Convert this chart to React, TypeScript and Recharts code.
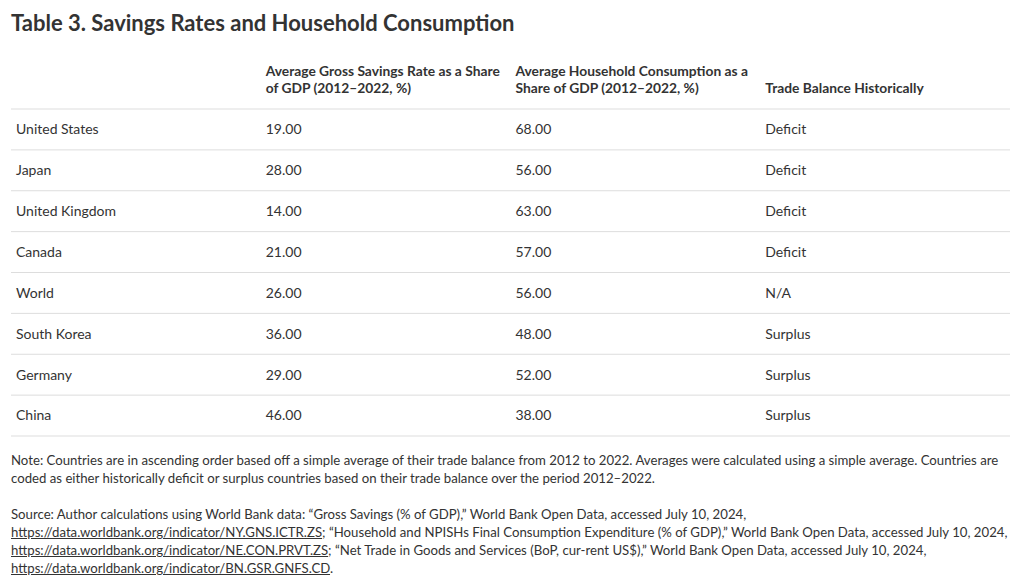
import React from "react"
import { ScatterChart, Scatter, XAxis, YAxis, CartesianGrid } from "recharts"

const countries = ["United States", "Japan", "United Kingdom", "Canada", "World", "South Korea", "Germany", "China"]
const savingsRate = [19, 28, 14, 21, 26, 36, 29, 46]
const consumption = [68, 56, 63, 57, 56, 48, 52, 38]
const tradeBalance = ["Deficit", "Deficit", "Deficit", "Deficit", "N/A", "Surplus", "Surplus", "Surplus"]

const headers = [
  [],
  ["Average Gross Savings Rate as a Share", "of GDP (2012\u20132022, %)"],
  ["Average Household Consumption as a", "Share of GDP (2012\u20132022, %)"],
  ["Trade Balance Historically"],
]

const FONT = "Lato, 'Noto Sans', sans-serif"
const TEXT = "#333333"

// one scatter series per column, each point is a table cell
const columns: string[][] = [
  countries,
  savingsRate.map((v) => v.toFixed(2)),
  consumption.map((v) => v.toFixed(2)),
  tradeBalance,
]
const cellData = columns.map((col, c) => col.map((label, r) => ({ col: c, row: r + 0.5, label })))

const CellText = (props: any) => {
  const { cx, cy, payload } = props
  return (
    <text x={cx + 5} y={cy} dy="0.35em" fontSize={14} fontFamily={FONT} fill={TEXT}>
      {payload.label}
    </text>
  )
}

const HeaderTick = (props: any) => {
  const { x, y, payload } = props
  const lines = headers[payload.value] || []
  return (
    <g>
      {lines.map((line, i) => (
        <text
          key={i}
          x={x + 5}
          y={y - 16 - (lines.length - 1 - i) * 17}
          fontSize={13.8}
          fontWeight={700}
          fontFamily={FONT}
          fill={TEXT}
        >
          {line}
        </text>
      ))}
    </g>
  )
}

const noteStyle: React.CSSProperties = { whiteSpace: "nowrap" }

export default function App() {
  return (
    <div style={{ position: "relative", width: 1020, height: 587, margin: -8, fontFamily: FONT, color: TEXT }}>
      <div style={{ position: "absolute", left: 11, top: 9, fontSize: 22, fontWeight: 700, whiteSpace: "nowrap" }}>
        Table 3. Savings Rates and Household Consumption
      </div>
      <div style={{ position: "absolute", left: 0, top: 0 }}>
        <ScatterChart width={1020} height={587} margin={{ top: 59, left: 11, right: 10, bottom: 151 }}>
          <CartesianGrid vertical={false} stroke="#dddddd" strokeDasharray="" />
          <XAxis
            dataKey="col"
            type="number"
            orientation="top"
            domain={[0, 4]}
            ticks={[0, 1, 2, 3]}
            height={50}
            axisLine={false}
            tickLine={false}
            tickSize={0}
            tickMargin={0}
            tick={<HeaderTick />}
            interval={0}
          />
          <YAxis dataKey="row" type="number" domain={[0, 8]} ticks={[0, 1, 2, 3, 4, 5, 6, 7, 8]} reversed hide width={0} />
          {cellData.map((d, i) => (
            <Scatter key={i} data={d} shape={<CellText />} isAnimationActive={false} />
          ))}
        </ScatterChart>
      </div>
      <div style={{ position: "absolute", left: 11, top: 451, width: 1005, fontSize: 13.2, lineHeight: "18px" }}>
        <div style={noteStyle}>
          Note: Countries are in ascending order based off a simple average of their trade balance from 2012 to 2022. Averages were calculated using a simple average. Countries are
        </div>
        <div style={noteStyle}>
          coded as either historically deficit or surplus countries based on their trade balance over the period 2012{"\u2013"}2022.
        </div>
      </div>
      <div style={{ position: "absolute", left: 11, top: 505, width: 1005, fontSize: 13.2, lineHeight: "18px" }}>
        <div style={noteStyle}>
          Source: Author calculations using World Bank data: {"\u201c"}Gross Savings (% of GDP),{"\u201d"} World Bank Open Data, accessed July 10, 2024,
        </div>
        <div style={noteStyle}>
          <u>https://data.worldbank.org/indicator/NY.GNS.ICTR.ZS</u>; {"\u201c"}Household and NPISHs Final Consumption Expenditure (% of GDP),{"\u201d"} World Bank Open Data, accessed July 10, 2024,
        </div>
        <div style={noteStyle}>
          <u>https://data.worldbank.org/indicator/NE.CON.PRVT.ZS</u>; {"\u201c"}Net Trade in Goods and Services (BoP, cur-rent US$),{"\u201d"} World Bank Open Data, accessed July 10, 2024,
        </div>
        <div style={noteStyle}>
          <u>https://data.worldbank.org/indicator/BN.GSR.GNFS.CD</u>.
        </div>
      </div>
    </div>
  )
}
